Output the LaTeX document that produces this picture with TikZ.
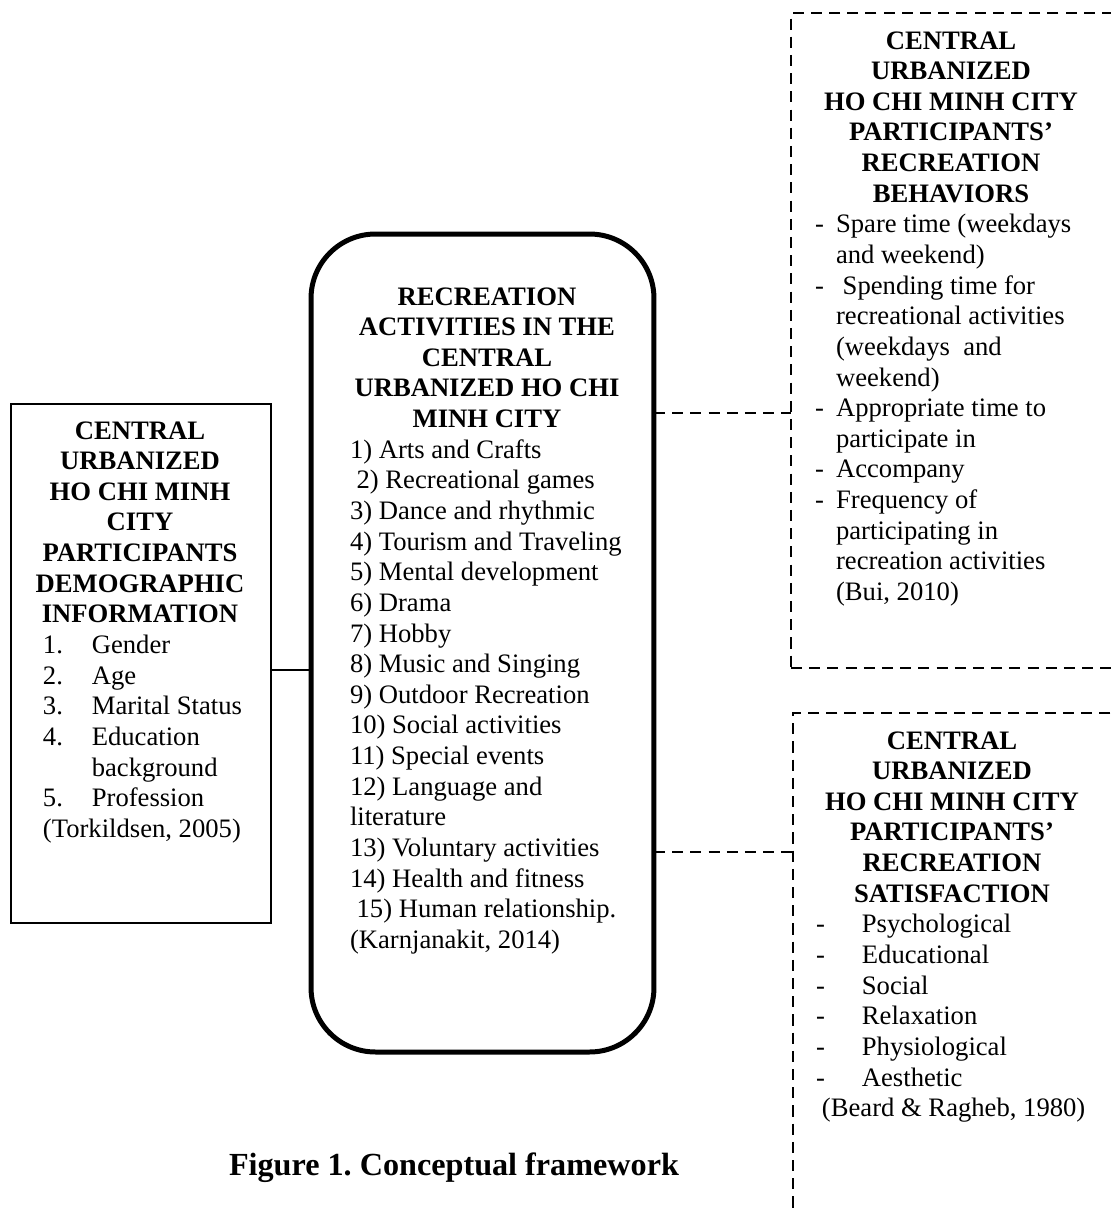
\documentclass[tikz,border=0pt]{standalone}
\usepackage{fontspec}
\setmainfont{Liberation Serif}
\frenchspacing
\newcommand\lmark[2]{\makebox[#1][l]{#2}}
\tikzset{
  txt/.style={inner sep=0pt, outer sep=0pt, font=\fontsize{12}{13.8}\selectfont},
  head/.style={txt, align=center, anchor=north, font=\fontsize{12}{13.8}\selectfont\bfseries},
  list/.style={txt, align=left, anchor=north west},
  solidbox/.style={rectangle, draw, line width=0.6pt, inner sep=0pt, outer sep=0pt},
  roundbox/.style={rectangle, draw, line width=2.25pt, rounded corners=29pt, inner sep=0pt, outer sep=0pt},
  dashbox/.style={rectangle, draw, line width=0.9pt, dash pattern=on 5pt off 3.2pt, inner sep=0pt, outer sep=0pt},
  dashline/.style={line width=0.9pt, dash pattern=on 5pt off 3.2pt},
  thinline/.style={line width=0.6pt}
}
\begin{document}
\begin{tikzpicture}[x=0.4505pt, y=-0.4505pt]
\useasboundingbox (0,0) rectangle (1111,1213);
\fill[white] (0,0) rectangle (1111,1213);
\clip (0,0) rectangle (1111,1213);

% boxes
\node[roundbox, minimum width=154.5pt, minimum height=368.5pt] (act) at (482.5,643) {};
\node[solidbox, minimum width=117.1pt, minimum height=233.8pt] (demo) at (141,663.5) {};
\node[dashbox, minimum width=150.5pt, minimum height=295.1pt] (beh) at (958,340.5) {};
\node[dashbox, minimum width=149.6pt, minimum height=237.4pt] (sat) at (959,976.5) {};

% connectors
\coordinate (y1) at (0,670);
\coordinate (y2) at (0,413);
\coordinate (y3) at (0,852);
\draw[thinline] (demo.east |- y1) -- (act.west |- y1);
\draw[dashline] (act.east |- y2) -- (beh.west |- y2);
\draw[dashline] (act.east |- y3) -- (sat.west |- y3);

% central box text
\node[head] (acth) at (487,283.6) {\strut RECREATION\\ACTIVITIES IN THE\\CENTRAL\\URBANIZED HO CHI\\MINH CITY};
\node[list] (actl) at (350,436.8) {\strut 1) Arts and Crafts\\
\hspace*{3pt}2) Recreational games\\
3) Dance and rhythmic\\
4) Tourism and Traveling\\
5) Mental development\\
6) Drama\\
7) Hobby\\
8) Music and Singing\\
9) Outdoor Recreation\\
10) Social activities\\
11) Special events\\
12) Language and\\
literature\\
13) Voluntary activities\\
14) Health and fitness\\
\hspace*{3pt}15) Human relationship.\\
(Karnjanakit, 2014)};

% left box text
\node[head] (demoh) at (140,417.6) {\strut CENTRAL\\URBANIZED\\HO CHI MINH\\CITY\\PARTICIPANTS\\DEMOGRAPHIC\\INFORMATION};
\node[list] (demol) at (43,632.1) {\strut\lmark{22pt}{1.}Gender\\
\lmark{22pt}{2.}Age\\
\lmark{22pt}{3.}Marital Status\\
\lmark{22pt}{4.}Education\\
\hspace*{22pt}background\\
\lmark{22pt}{5.}Profession\\
(Torkildsen, 2005)};

% top right box text
\node[head] (behh) at (951,27.6) {\strut CENTRAL\\URBANIZED\\HO CHI MINH CITY\\PARTICIPANTS’\\RECREATION\\BEHAVIORS};
\node[list] (behl) at (815,211.4) {\strut\lmark{9.5pt}{-}Spare time (weekdays\\
\hspace*{9.5pt}and weekend)\\
\lmark{9.5pt}{-}\hspace*{3pt}Spending time for\\
\hspace*{9.5pt}recreational activities\\
\hspace*{9.5pt}(weekdays\ \ and\\
\hspace*{9.5pt}weekend)\\
\lmark{9.5pt}{-}Appropriate time to\\
\hspace*{9.5pt}participate in\\
\lmark{9.5pt}{-}Accompany\\
\lmark{9.5pt}{-}Frequency of\\
\hspace*{9.5pt}participating in\\
\hspace*{9.5pt}recreation activities\\
\hspace*{9.5pt}(Bui, 2010)};

% bottom right box text
\node[head] (sath) at (952,727.6) {\strut CENTRAL\\URBANIZED\\HO CHI MINH CITY\\PARTICIPANTS’\\RECREATION\\SATISFACTION};
\node[list] (satl) at (816,911.4) {\strut\lmark{20.7pt}{-}Psychological\\
\lmark{20.7pt}{-}Educational\\
\lmark{20.7pt}{-}Social\\
\lmark{20.7pt}{-}Relaxation\\
\lmark{20.7pt}{-}Physiological\\
\lmark{20.7pt}{-}Aesthetic\\
\hspace*{2.7pt}(Beard \& Ragheb, 1980)};

% caption
\node[inner sep=0pt, anchor=base, font=\fontsize{14.5}{16.7}\selectfont\bfseries] (cap) at (454,1175) {Figure 1. Conceptual framework};
\end{tikzpicture}
\end{document}
